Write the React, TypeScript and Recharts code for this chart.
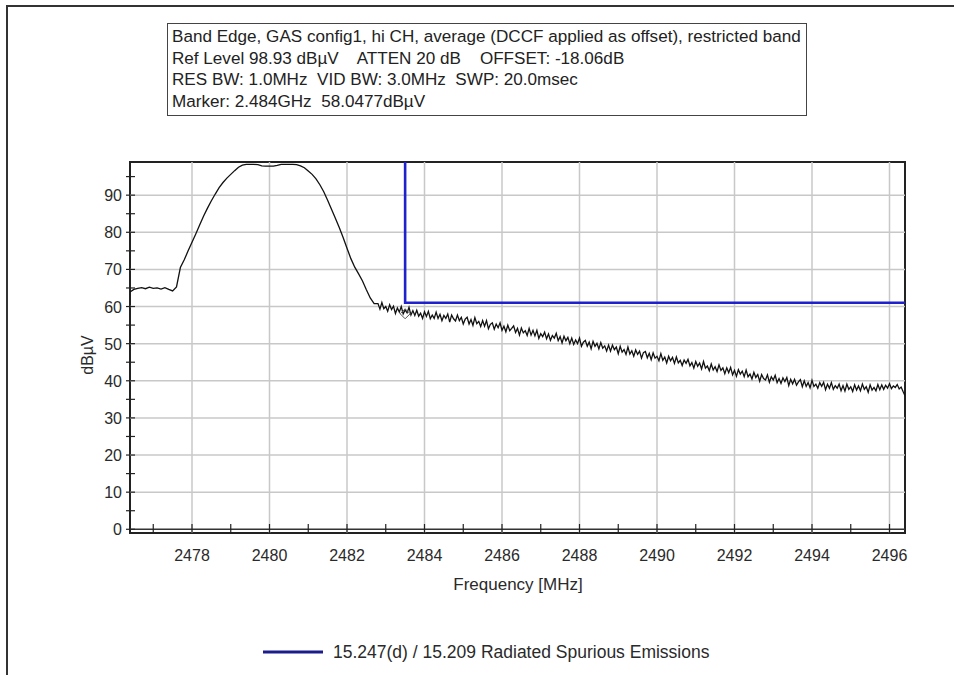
import React from "react";
import { LineChart, Line, XAxis, YAxis, ReferenceLine, ReferenceArea, ReferenceDot } from "recharts";

// carrier region, 0.1 MHz per point from 2476.4 to 2482.7 MHz
const CARRIER_START = 2476.4;
const CARRIER_STEP = 0.1;
const CARRIER_DBUV = [
  63.9, 64.6, 64.9, 65.1, 64.8, 65.2, 64.9, 65.0, 64.7, 65.1,
  64.6, 64.2, 65.3, 70.5, 72.6, 75.0, 77.3, 79.6, 82.0, 84.4,
  86.5, 88.5, 90.3, 92.0, 93.4, 94.6, 95.6, 96.6, 97.5, 98.1,
  98.3, 98.3, 98.3, 98.2, 97.9, 97.8, 97.8, 97.8, 98.0, 98.3,
  98.3, 98.3, 98.3, 98.2, 97.9, 97.4, 96.5, 95.6, 94.4, 92.8,
  90.9, 88.6, 86.2, 83.8, 81.3, 78.6, 75.7, 72.9, 70.6, 68.8,
  66.9, 64.5, 62.3, 60.8,
];

// out-of-band skirt, 0.05 MHz per point from 2482.8 to 2496.4 MHz
const SKIRT_START = 2482.8;
const SKIRT_STEP = 0.05;
const SKIRT_DBUV = [
  60.8, 59.3, 61.1, 59.4, 60.0, 58.7, 60.5, 59.2, 60.1, 58.1, 59.6, 58.5, 60.0, 58.0, 59.1, 58.3, 59.8, 57.7, 58.9, 57.6,
  59.0, 57.4, 58.2, 56.8, 58.6, 57.3, 58.7, 56.7, 57.7, 56.8, 58.5, 56.8, 57.9, 56.2, 57.6, 56.8, 58.0, 55.8, 57.7, 56.7,
  56.1, 57.7, 56.2, 57.1, 55.3, 56.6, 57.1, 55.3, 56.5, 54.9, 57.0, 55.4, 56.0, 54.6, 56.2, 54.7, 56.2, 54.0, 55.2, 55.6,
  53.9, 55.3, 54.3, 55.6, 53.6, 54.7, 53.2, 55.0, 53.5, 54.1, 54.8, 53.0, 54.1, 52.3, 54.2, 52.9, 53.5, 52.2, 54.1, 52.3,
  53.6, 52.1, 53.6, 51.4, 52.7, 51.9, 53.1, 51.3, 52.6, 50.9, 52.2, 51.5, 52.8, 50.8, 51.9, 50.2, 52.0, 50.8, 51.7, 50.0,
  51.5, 49.8, 51.0, 50.0, 51.5, 49.3, 50.4, 50.9, 49.3, 50.4, 48.6, 50.6, 49.3, 50.1, 48.6, 50.3, 48.8, 49.4, 48.0, 49.6,
  48.0, 49.6, 48.4, 49.1, 47.3, 49.3, 47.7, 48.4, 47.1, 49.1, 47.2, 48.1, 46.6, 48.3, 47.1, 48.0, 46.1, 47.6, 47.9, 46.2,
  47.4, 45.7, 47.5, 46.1, 46.6, 45.4, 47.3, 45.5, 46.4, 44.8, 46.6, 45.4, 46.3, 44.7, 46.4, 44.8, 45.5, 44.1, 45.6, 44.7,
  45.8, 44.0, 44.9, 43.4, 45.2, 43.9, 44.8, 43.2, 45.2, 43.4, 44.0, 42.7, 44.5, 42.9, 43.8, 42.5, 44.3, 42.8, 43.5, 41.9,
  43.5, 42.2, 43.6, 41.6, 42.8, 41.2, 43.0, 41.8, 42.6, 41.1, 42.9, 41.1, 41.8, 40.5, 42.3, 40.9, 41.7, 39.9, 41.7, 40.6,
  40.2, 41.6, 39.6, 41.1, 40.2, 41.5, 39.5, 40.6, 39.3, 40.8, 39.8, 40.9, 38.7, 40.4, 39.2, 40.4, 38.8, 39.7, 40.3, 38.4,
  40.0, 38.5, 39.5, 38.1, 40.1, 38.5, 39.1, 38.0, 39.5, 38.5, 39.6, 37.6, 39.1, 38.0, 39.5, 37.7, 38.7, 38.0, 39.1, 37.3,
  38.7, 37.2, 39.1, 37.7, 38.4, 37.1, 38.9, 37.5, 38.6, 37.3, 39.1, 37.7, 38.4, 36.9, 38.9, 37.5, 38.2, 37.3, 39.0, 37.6,
  38.9, 37.7, 38.8, 38.0, 39.2, 37.9, 38.6, 38.2, 39.0, 37.8, 38.3, 37.1, 36.0,
];

const TRACE = [
  ...CARRIER_DBUV.map((v, i) => ({ f: +(CARRIER_START + i * CARRIER_STEP).toFixed(2), v })),
  ...SKIRT_DBUV.map((v, i) => ({ f: +(SKIRT_START + i * SKIRT_STEP).toFixed(2), v })),
];

// 15.247(d) / 15.209 restricted band limit
const LIMIT = [
  { f: 2483.5, v: 98.93 },
  { f: 2483.5, v: 61 },
  { f: 2496.4, v: 61 },
];

const MARKER = { f: 2483.5, v: 58.05 };

const X_DOMAIN = [2476.4, 2496.4];
const Y_DOMAIN = [-1, 98.93];
const X_TICKS = [2477, 2478, 2479, 2480, 2481, 2482, 2483, 2484, 2485, 2486, 2487, 2488, 2489, 2490, 2491, 2492, 2493, 2494, 2495, 2496];
const X_GRID = [2478, 2480, 2482, 2484, 2486, 2488, 2490, 2492, 2494, 2496];
const Y_TICKS = [0, 5, 10, 15, 20, 25, 30, 35, 40, 45, 50, 55, 60, 65, 70, 75, 80, 85, 90, 95];
const Y_GRID = [10, 20, 30, 40, 50, 60, 70, 80, 90];

const HEADER = [
  "Band Edge, GAS config1, hi CH, average (DCCF applied as offset), restricted band",
  "Ref Level 98.93 dBµV    ATTEN 20 dB    OFFSET: -18.06dB",
  "RES BW: 1.0MHz  VID BW: 3.0MHz  SWP: 20.0msec",
  "Marker: 2.484GHz  58.0477dBµV",
];

const FONT = "'Liberation Sans', Arial, sans-serif";
const INK = "#2a2a2a";

const XTick = ({ x, y, payload }: any) => {
  const even = payload.value % 2 === 0;
  return (
    <g>
      <line x1={x} x2={x} y1={y} y2={y - 9} stroke="#222" strokeWidth={1.2} />
      {even && (
        <text x={x} y={y + 28} textAnchor="middle" fontSize={16} fill={INK} fontFamily={FONT}>
          {payload.value}
        </text>
      )}
    </g>
  );
};

const YTick = ({ x, y, payload }: any) => {
  const major = payload.value % 10 === 0;
  return (
    <g>
      <line x1={x - 4} x2={x + 5} y1={y} y2={y} stroke="#222" strokeWidth={1.2} />
      {major && (
        <text x={x - 8} y={y + 6} textAnchor="end" fontSize={16} fill={INK} fontFamily={FONT}>
          {payload.value}
        </text>
      )}
    </g>
  );
};

const Diamond = ({ cx, cy }: any) => (
  <path d={`M${cx},${cy - 5}L${cx + 5},${cy}L${cx},${cy + 5}L${cx - 5},${cy}Z`} fill="none" stroke="#555" strokeWidth={1} />
);

export default function App() {
  return (
    <div style={{ position: "absolute", left: 0, top: 0, width: 954, height: 675, background: "#fff", fontFamily: FONT }}>
      <div style={{ position: "absolute", left: 6, top: 5, width: 948, height: 670, borderTop: "2px solid #333", borderLeft: "2px solid #333" }} />
      <div
        style={{
          position: "absolute",
          left: 167,
          top: 23,
          width: 640,
          height: 93,
          border: "1.5px solid #444",
          padding: "2px 0 0 4px",
          boxSizing: "border-box",
          fontSize: 17.1,
          lineHeight: "21.7px",
          color: "#222",
          whiteSpace: "pre",
        }}
      >
        {HEADER.map((l, i) => (
          <div key={i}>{l}</div>
        ))}
      </div>

      <LineChart width={954} height={675} data={TRACE} margin={{ top: 162, right: 49, bottom: 102, left: 70 }} style={{ position: "absolute", left: 0, top: 0 }}>
        <XAxis
          dataKey="f"
          type="number"
          domain={X_DOMAIN}
          ticks={X_TICKS}
          interval={0}
          allowDataOverflow
          axisLine={false}
          tickLine={false}
          tickSize={0}
          tickMargin={0}
          height={40}
          tick={<XTick />}
        />
        <YAxis
          type="number"
          domain={Y_DOMAIN}
          ticks={Y_TICKS}
          interval={0}
          allowDataOverflow
          axisLine={false}
          tickLine={false}
          tickSize={0}
          tickMargin={0}
          width={60}
          tick={<YTick />}
        />
        {X_GRID.map((g) => (
          <ReferenceLine key={`x${g}`} x={g} stroke="#c8c8c8" strokeWidth={1.5} />
        ))}
        {Y_GRID.map((g) => (
          <ReferenceLine key={`y${g}`} y={g} stroke="#c8c8c8" strokeWidth={1.5} />
        ))}
        <ReferenceLine y={0} stroke="#333" strokeWidth={1.5} />
        <ReferenceArea x1={X_DOMAIN[0]} x2={X_DOMAIN[1]} y1={Y_DOMAIN[0]} y2={Y_DOMAIN[1]} fill="none" stroke="#222" strokeWidth={2} />
        <Line dataKey="v" data={TRACE} type="linear" stroke="#111" strokeWidth={1.3} dot={false} isAnimationActive={false} />
        <Line dataKey="v" data={LIMIT} type="linear" stroke="#1f22cc" strokeWidth={2.6} dot={false} isAnimationActive={false} />
        <ReferenceDot x={MARKER.f} y={MARKER.v} shape={<Diamond />} />
      </LineChart>

      <div style={{ position: "absolute", left: 88, top: 355, transform: "translate(-50%, -50%) rotate(-90deg)", fontSize: 16, color: INK }}>
        dBµV
      </div>
      <div style={{ position: "absolute", left: 518, top: 585, transform: "translate(-50%, -50%)", fontSize: 17, color: INK, whiteSpace: "nowrap" }}>
        Frequency [MHz]
      </div>
      <div style={{ position: "absolute", left: 263, top: 641, display: "flex", alignItems: "center", fontSize: 17.5, color: INK, whiteSpace: "nowrap" }}>
        <svg width={60} height={22}>
          <line x1={0} x2={60} y1={11} y2={11} stroke="#1c1c8c" strokeWidth={3} />
        </svg>
        <span style={{ marginLeft: 10 }}>15.247(d) / 15.209 Radiated Spurious Emissions</span>
      </div>
    </div>
  );
}
